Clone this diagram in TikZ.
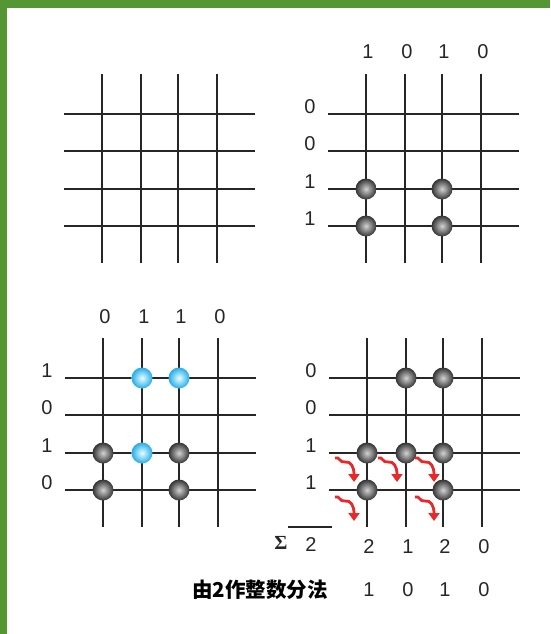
\documentclass[tikz,border=0pt]{standalone}
\usepackage{fontspec}
\setmainfont{Liberation Sans}
\newfontfamily\cjk{Noto Sans CJK SC}
\newfontfamily\sigmafont{Liberation Serif}
\usepackage{tikz}
\usetikzlibrary{arrows.meta,positioning,calc}

\definecolor{framegreen}{RGB}{84,150,52}
\definecolor{dotblue}{RGB}{40,172,232}
\definecolor{arrowred}{RGB}{232,40,42}

\begin{document}
\begin{tikzpicture}[
		x=1pt,y=-1pt,
		gridline/.style={line width=2pt, black!85},
		dot/.style={circle, minimum size=21pt, inner sep=0pt, inner color=gray!35, outer color=black!80},
		bluedot/.style={circle, minimum size=21pt, inner sep=0pt, inner color=cyan!10, outer color=dotblue},
		digit/.style={inner sep=0pt, text=black!85, font=\fontsize{20}{20}\selectfont},
		squig/.style={arrowred, line width=2.8pt, -{Triangle[length=8pt,width=11pt]}}
		]
		
		% frame
		\useasboundingbox (0,0) rectangle (550,634);
		\fill[framegreen] (0,0) rectangle (550,8);
		\fill[framegreen] (0,0) rectangle (7,634);
		
		% =========================
		% Top left: empty grid
		% =========================
		\begin{scope}[shift={(102,114)}]
			\foreach \gx in {0,39,76,115} \draw[gridline] (\gx,-40) -- (\gx,149);
			\foreach \gy in {0,37,75,112} \draw[gridline] (-38,\gy) -- (153,\gy);
		\end{scope}
		
		% =========================
		% Top right: 1010 x 0011
		% =========================
		\begin{scope}[shift={(366,114)}]
			\foreach \gx in {0,39,76,115} \draw[gridline] (\gx,-40) -- (\gx,149);
			\foreach \gy in {0,37,75,112} \draw[gridline] (-38,\gy) -- (153,\gy);
			
			\foreach \gx/\t [count=\i] in {0/1,39/0,76/1,115/0}
			\node[digit] (tr-top-\i) at (\gx+2,-62) {\t};
			\foreach \gy/\t [count=\i] in {0/0,37/0,75/1,112/1}
			\node[digit] (tr-left-\i) at (-56,\gy-7) {\t};
			
			\node[dot] (tr-3-1) at (0,75) {};
			\node[dot] (tr-3-3) at (76,75) {};
			\node[dot] (tr-4-1) at (0,112) {};
			\node[dot] (tr-4-3) at (76,112) {};
		\end{scope}
		
		% =========================
		% Bottom left: 0110 x 1010
		% =========================
		\begin{scope}[shift={(103,378)}]
			\foreach \gx in {0,39,76,115} \draw[gridline] (\gx,-40) -- (\gx,149);
			\foreach \gy in {0,37,75,112} \draw[gridline] (-38,\gy) -- (153,\gy);
			
			\foreach \gx/\t [count=\i] in {0/0,39/1,76/1,115/0}
			\node[digit] (bl-top-\i) at (\gx+2,-61) {\t};
			\foreach \gy/\t [count=\i] in {0/1,37/0,75/1,112/0}
			\node[digit] (bl-left-\i) at (-56,\gy-7) {\t};
			
			\node[bluedot] (bl-1-2) at (39,0) {};
			\node[bluedot] (bl-1-3) at (76,0) {};
			\node[bluedot] (bl-3-2) at (39,75) {};
			\node[dot] (bl-3-1) at (0,75) {};
			\node[dot] (bl-3-3) at (76,75) {};
			\node[dot] (bl-4-1) at (0,112) {};
			\node[dot] (bl-4-3) at (76,112) {};
		\end{scope}
		
		% =========================
		% Bottom right: sum and carries
		% =========================
		\begin{scope}[shift={(367,378)}]
			\foreach \gx in {0,39,76,115} \draw[gridline] (\gx,-40) -- (\gx,149);
			\foreach \gy in {0,37,75,112} \draw[gridline] (-38,\gy) -- (153,\gy);
			
			\foreach \gy/\t [count=\i] in {0/0,37/0,75/1,112/1}
			\node[digit] (br-left-\i) at (-56,\gy-7) {\t};
			
			\node[dot] (br-1-2) at (39,0) {};
			\node[dot] (br-1-3) at (76,0) {};
			\node[dot] (br-3-1) at (0,75) {};
			\node[dot] (br-3-2) at (39,75) {};
			\node[dot] (br-3-3) at (76,75) {};
			\node[dot] (br-4-1) at (0,112) {};
			\node[dot] (br-4-3) at (76,112) {};
			
			% carries
			\foreach \ax/\ay [count=\i] in {-32/80,11/80,48/80,-32/119,48/119}{
				\coordinate (sq-\i) at (\ax,\ay);
				\draw[squig] (sq-\i) .. controls (\ax+5,\ay-2) and (\ax+4,\ay+5) .. (\ax+10,\ay+4)
				.. controls (\ax+16,\ay+3) and (\ax+19,\ay+9) .. (\ax+19,\ay+24);
			}
			
			% sums
			\draw[line width=1.5pt, black!85] (-79,149) -- (-35,149);
			\node[inner sep=0pt, text=black!85, font=\sigmafont\bfseries\fontsize{20}{20}\selectfont] (sigma) at (-86,165) {Σ};
			\node[digit] (carry) at (-56,167) {2};
			\foreach \gx/\t [count=\i] in {0/2,39/1,76/2,115/0}
			\node[digit] (sum-\i) at (\gx+2,169) {\t};
			
			% result
			\foreach \gx/\t [count=\i] in {0/1,39/0,76/1,115/0}
			\node[digit] (res-\i) at (\gx+2,212) {\t};
			\node[inner sep=0pt, font=\cjk\bfseries\fontsize{20.5}{20.5}\selectfont] (caption) at (-107,212) {由2作整数分法};
		\end{scope}
		
	\end{tikzpicture}
\end{document}
